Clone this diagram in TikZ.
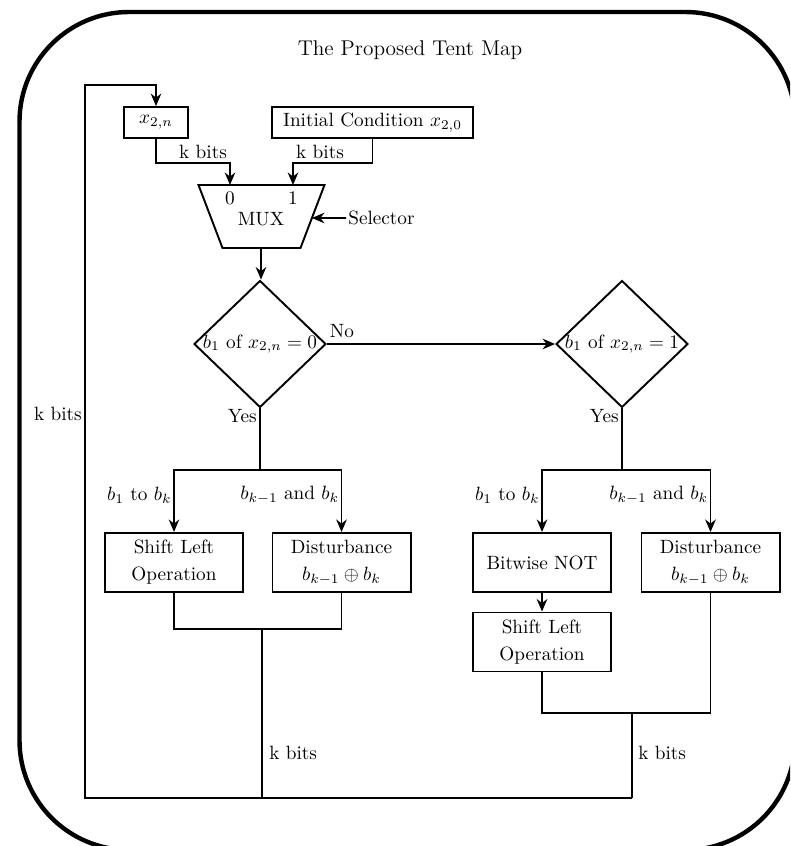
\documentclass[tikz,border=0pt]{standalone}
\usetikzlibrary{arrows.meta,shapes.geometric,calc}
\begin{document}
\begin{tikzpicture}[x=0.52pt,y=-0.52pt,
  box/.style={draw, line width=1pt, align=center, inner sep=0pt, minimum width=71.8pt, minimum height=30.7pt},
  smallbox/.style={draw, line width=1pt, align=center, inner sep=0pt, minimum height=16.1pt},
  dec/.style={diamond, draw, line width=1pt, inner sep=0pt, minimum width=68.6pt, minimum height=66pt},
  conn/.style={line width=1pt},
  arr/.style={conn, -{Stealth[length=6.5pt,width=5.5pt]}},
  lbl/.style={inner sep=1pt}]
\useasboundingbox (0,0) rectangle (790,846);
\clip (0,0) rectangle (790,846);
% frame
\draw[line width=2.3pt, rounded corners=57pt] (19.5,12) rectangle (795,850);
\node[font=\fontsize{11.1pt}{13pt}\selectfont] (title) at (410,50) {The Proposed Tent Map};
% inputs
\node[smallbox, minimum width=33.3pt] (x2n) at (156,122.5) {$x_{2,n}$};
\node[smallbox, minimum width=104.5pt] (init) at (372.5,122.5) {Initial Condition $x_{2,0}$};
% MUX
\coordinate (mtl) at (198.5,185);
\coordinate (mtr) at (324.5,185);
\coordinate (mbr) at (300.5,248);
\coordinate (mbl) at (222.5,248);
\draw[conn] (mtl) -- (mtr) -- (mbr) -- (mbl) -- cycle;
\coordinate (min0) at (230,185);
\coordinate (min1) at (293,185);
\coordinate (mout) at (261,248);
\coordinate (msel) at ($(mtr)!0.524!(mbr)$);
\node (mux) at (261,219) {MUX};
\node (m0) at (230,198) {0};
\node (m1) at (293,198) {1};
\node[anchor=west, lbl] (sel) at (346,218) {Selector};
\draw[arr] (sel.west) -- (msel);
\draw[arr] (x2n.south) -- ++(0,24) -| (min0);
\draw[arr] (init.south) -- ++(0,24) -| (min1);
\node (kb1) at (203,152) {k bits};
\node (kb2) at (320,152) {k bits};
% decisions
\node[dec, label=center:{$b_1$ of $x_{2,n}=0$}] (d1) at (260,344) {};
\node[dec, label=center:{$b_1$ of $x_{2,n}=1$}] (d2) at (622,344) {};
\draw[arr] (mout) -- (mout |- d1.north);
\draw[arr] (d1.east) -- (d2.west);
\node (no) at (342,331) {No};
\node[anchor=east, lbl] (yes1) at (259,416) {Yes};
\node[anchor=east, lbl] (yes2) at (621,416) {Yes};
% left branch
\node[box] (sl1) at (174,562.5) {Shift Left\\[2pt]Operation};
\node[box] (dt1) at (341.5,562.5) {Disturbance\\[2pt]$b_{k-1}\oplus b_k$};
\coordinate (j1) at (260,470);
\draw[conn] (d1.south) -- (j1);
\draw[arr] (j1) -| (sl1.north);
\draw[arr] (j1) -| (dt1.north);
\node[anchor=east, lbl] (lb1) at (174,495) {$b_1$ to $b_k$};
\node[anchor=east, lbl] (lb2) at (341.5,495) {$b_{k-1}$ and $b_k$};
\coordinate (jm1) at (262,629);
\coordinate (bm1) at (262,798);
\draw[conn] (sl1.south) |- (jm1) -| (dt1.south);
\draw[conn] (jm1) -- (bm1);
\node[anchor=west, lbl] (kb3) at (267,753) {k bits};
% right branch
\node[box] (nt) at (542,562.5) {Bitwise NOT};
\node[box] (sl2) at (542,642) {Shift Left\\[2pt]Operation};
\node[box] (dt2) at (710.5,562.5) {Disturbance\\[2pt]$b_{k-1}\oplus b_k$};
\coordinate (j2) at (622,470);
\draw[conn] (d2.south) -- (j2);
\draw[arr] (j2) -| (nt.north);
\draw[arr] (j2) -| (dt2.north);
\node[anchor=east, lbl] (lb3) at (542,495) {$b_1$ to $b_k$};
\node[anchor=east, lbl] (lb4) at (710.5,495) {$b_{k-1}$ and $b_k$};
\draw[arr] (nt.south) -- (sl2.north);
\coordinate (jm2) at (632,713);
\coordinate (bm2) at (632,798);
\draw[conn] (sl2.south) |- (jm2) -| (dt2.south);
\draw[conn] (jm2) -- (bm2);
\node[anchor=west, lbl] (kb4) at (636,753) {k bits};
% feedback
\coordinate (fbl) at (85,798);
\coordinate (fbt) at (85,85);
\draw[arr] (bm2) -- (fbl) -- (fbt) -| (x2n.north);
\node[anchor=east, lbl] (kb5) at (84,414) {k bits};
\end{tikzpicture}
\end{document}
